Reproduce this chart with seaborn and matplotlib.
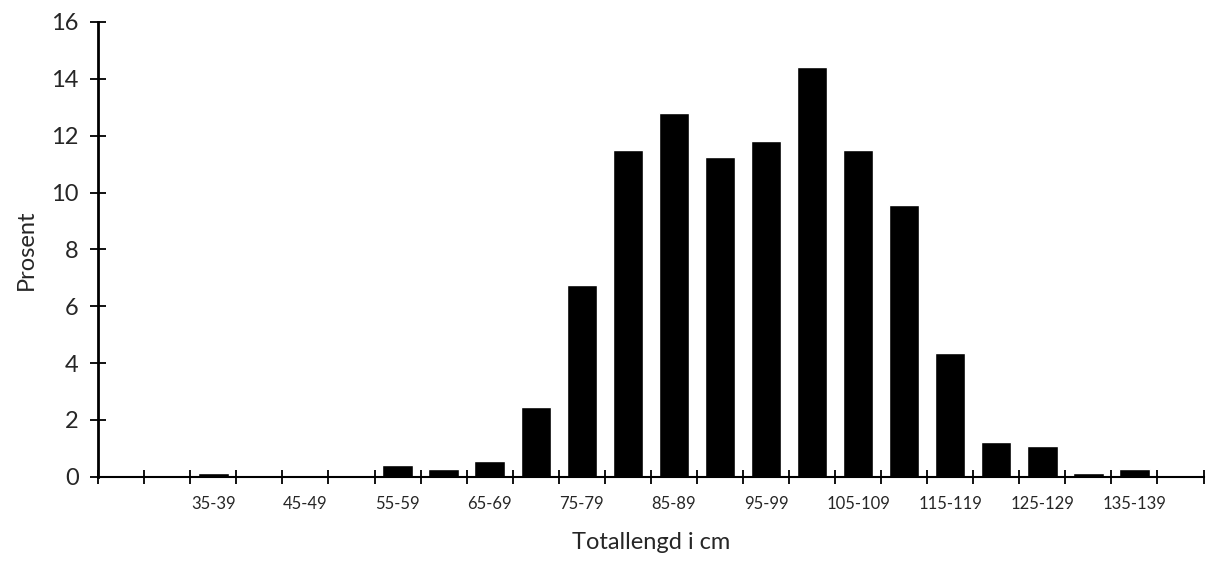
import matplotlib
matplotlib.use("Agg")
import matplotlib.pyplot as plt
import seaborn as sns
import pandas as pd

categories = ["25-29", "30-34", "35-39", "40-44", "45-49", "50-54", "55-59", "60-64",
              "65-69", "70-74", "75-79", "80-84", "85-89", "90-94", "95-99", "100-104",
              "105-109", "110-114", "115-119", "120-124", "125-129", "130-134",
              "135-139", "140-144"]
prosent = [0.03, 0.03, 0.15, 0.03, 0.02, 0.0, 0.42, 0.28, 0.54, 2.47, 6.76, 11.5,
           12.8, 11.25, 11.8, 14.4, 11.5, 9.55, 4.35, 1.23, 1.07, 0.15, 0.28, 0.0]
shown_labels = ["35-39", "45-49", "55-59", "65-69", "75-79", "85-89", "95-99",
                "105-109", "115-119", "125-129", "135-139"]

df = pd.DataFrame({"kat": categories, "prosent": prosent})

sns.set_theme(style="white")
plt.rcParams["font.family"] = ["Lato", "DejaVu Sans"]

fig = plt.figure(figsize=(12.12, 5.78), dpi=100)
ax = fig.add_axes([0.081, 0.175, 0.912, 0.787])

sns.barplot(data=df, x="kat", y="prosent", color="black", width=0.66,
            saturation=1, ax=ax, order=categories)

n = len(categories)
ax.set_xlim(-0.5, n - 0.5)
ax.set_ylim(0, 16)
ax.set_yticks(range(0, 17, 2))
ax.set_yticklabels([str(v) for v in range(0, 17, 2)], fontsize=17)

ax.set_xticks(range(n))
ax.set_xticklabels([c if c in shown_labels else "" for c in categories], fontsize=12)
ax.tick_params(axis="x", which="major", length=0, pad=14, bottom=False)
ax.set_xticks([i - 0.5 for i in range(n + 1)], minor=True)
ax.tick_params(axis="x", which="minor", direction="inout", length=10, width=1.3,
               color="black", bottom=True)
ax.tick_params(axis="y", which="major", direction="inout", length=12, width=1.3,
               color="black", pad=8, left=True)

for s in ["top", "right"]:
    ax.spines[s].set_visible(False)
ax.spines["left"].set_linewidth(2)
ax.spines["bottom"].set_linewidth(1.5)
ax.spines["left"].set_color("black")
ax.spines["bottom"].set_color("black")

ax.set_xlabel("Totallengd i cm", fontsize=17, labelpad=14)
ax.set_ylabel("Prosent", fontsize=17, labelpad=10)

fig.savefig("out.png", dpi=100)
